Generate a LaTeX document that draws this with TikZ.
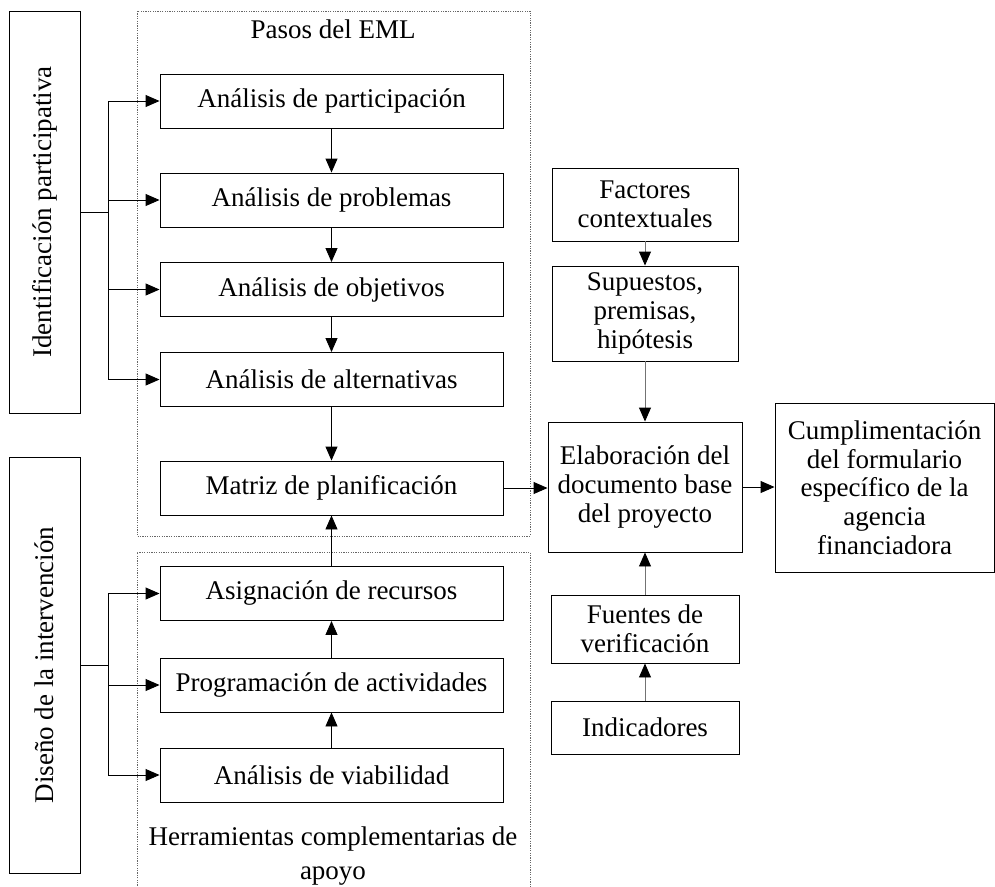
\documentclass[tikz,border=0pt]{standalone}
\usepackage{fontspec}
\setmainfont{Liberation Serif}
\usetikzlibrary{arrows.meta}
\begin{document}
\begin{tikzpicture}[x=0.75pt,y=-0.75pt,
  every node/.style={font=\fontsize{20.25pt}{21.5pt}\selectfont,inner sep=0pt,align=center},
  box/.style={draw=black,line width=0.7pt,rectangle},
  stepbox/.style={box,minimum width=257.25pt,minimum height=40.5pt},
  sidebox/.style={box,minimum width=53.25pt},
  frame/.style={draw=black!60,line width=0.6pt,dash pattern=on 0.9pt off 0.9pt},
  conn/.style={line width=0.7pt,draw=black},
  arr/.style={conn,-{Triangle[length=10.5pt,width=9pt,color=black]}},
  garr/.style={arr,draw=black!55}]
\useasboundingbox (0,0) rectangle (995,886);

% dotted frames around the two groups of steps
\draw[frame] (137,11) rectangle (530,536);
\draw[frame] (137,900) -- (137,552) -- (530,552) -- (530,900);
\node (pasos) at (333,29) {Pasos del EML};
\node (herr) at (333,856) {Herramientas complementarias de\\[4.4pt]apoyo};

% side labels
\node[sidebox,minimum height=301.5pt] (ident) at (44.5,212)
  {\rotatebox{90}{Identificación participativa}};
\node[sidebox,minimum height=312pt] (diseno) at (44.5,665)
  {\rotatebox{90}{Diseño de la intervención}};

% steps of the method
\node[stepbox] (part) at (331.5,101) {Análisis de participación};
\node[stepbox] (prob) at (331.5,200) {Análisis de problemas};
\node[stepbox] (obj)  at (331.5,289.5) {Análisis de objetivos};
\node[stepbox] (alt)  at (331.5,379.5) {Análisis de alternativas};
\node[stepbox] (mat)  at (331.5,488) {Matriz de planificación};
\node[stepbox] (asig) at (331.5,593.5) {Asignación de recursos};
\node[stepbox] (prog) at (331.5,685) {Programación de actividades};
\node[stepbox] (viab) at (331.5,775) {Análisis de viabilidad};

% right column
\node[box,minimum width=139.5pt,minimum height=54.75pt] (fact) at (645,204.5) {Factores\\contextuales};
\node[box,minimum width=139.5pt,minimum height=71.25pt] (sup) at (645,313.5) {Supuestos,\\premisas,\\hipótesis};
\node[box,minimum width=145.5pt,minimum height=97.5pt] (elab) at (645,487) {Elaboración del\\documento base\\del proyecto};
\node[box,minimum width=141pt,minimum height=51pt] (fuen) at (645,629) {Fuentes de\\verificación};
\node[box,minimum width=141pt,minimum height=39.75pt] (ind) at (645,727.5) {Indicadores};
\node[box,minimum width=164.25pt,minimum height=126.75pt] (cump) at (884.5,487.5)
  {Cumplimentación\\del formulario\\específico de la\\agencia\\financiadora};

% branch points
\coordinate (b1) at (108,212);
\coordinate (b2) at (108,665);

% upper branch
\draw[conn] (ident.east) -- (b1);
\draw[conn] (b1 |- part.west) -- (b1 |- alt.west);
\foreach \n in {part,prob,obj,alt} \draw[arr] (b1 |- \n.west) -- (\n.west);

% lower branch
\draw[conn] (diseno.east) -- (b2);
\draw[conn] (b2 |- asig.west) -- (b2 |- viab.west);
\foreach \n in {asig,prog,viab} \draw[arr] (b2 |- \n.west) -- (\n.west);

% chain of steps
\draw[arr] (part) -- (prob);
\draw[arr] (prob) -- (obj);
\draw[arr] (obj) -- (alt);
\draw[arr] (alt) -- (mat);
\draw[arr] (asig) -- (mat);
\draw[arr] (prog) -- (asig);
\draw[arr] (viab) -- (prog);

% towards the project document
\draw[arr] (mat.east) -- (mat.east -| elab.west);
\draw[garr] (fact) -- (sup);
\draw[garr] (sup) -- (elab);
\draw[garr] (fuen) -- (elab);
\draw[garr] (ind) -- (fuen);
\draw[arr] (elab.east) -- (elab.east -| cump.west);
\end{tikzpicture}
\end{document}
